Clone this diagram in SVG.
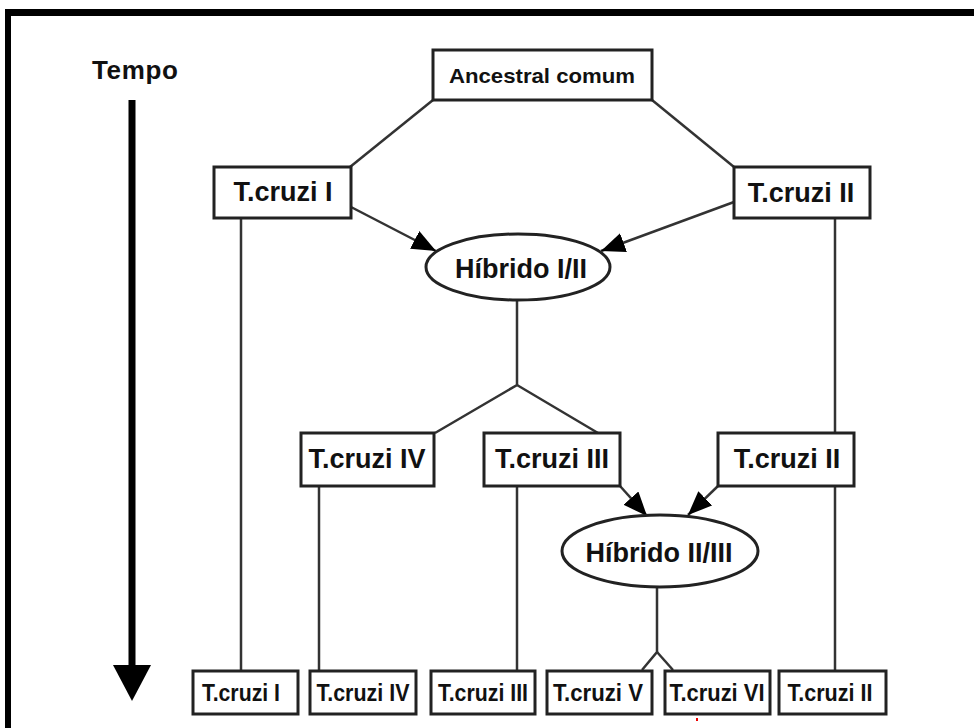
<svg xmlns="http://www.w3.org/2000/svg" width="974" height="728" viewBox="0 0 974 728">
<defs>
<style>
.box{fill:#fff;stroke:#222;stroke-width:3}
.ell{fill:#fff;stroke:#222;stroke-width:3}
.ln{fill:none;stroke:#333;stroke-width:2.5}
.t{font-family:"Liberation Sans",Arial,sans-serif;font-weight:bold;fill:#111;text-anchor:middle}
.big{font-size:27px}
.small{font-size:24px}
</style>
<marker id="ah" markerUnits="userSpaceOnUse" markerWidth="26" markerHeight="22" refX="24" refY="10" orient="auto">
<path d="M0,0 L24,10 L0,20 z" fill="#000"/>
</marker>
</defs>
<rect x="0" y="0" width="974" height="728" fill="#fff"/>
<!-- frame -->
<rect x="5" y="9" width="969" height="7" fill="#000"/>
<rect x="5" y="9" width="6" height="719" fill="#000"/>

<g id="tempo">
<text x="92" y="79" class="t" style="text-anchor:start;font-size:26px" textLength="86">Tempo</text>
<line x1="132" y1="100" x2="132" y2="668" stroke="#000" stroke-width="7"/>
<polygon points="113,665 151,665 132,701" fill="#000"/>
</g>

<g id="connectors">
<line class="ln" x1="433" y1="100" x2="350" y2="167"/>
<line class="ln" x1="652" y1="100" x2="734" y2="167"/>
<line class="ln" x1="351" y1="207" x2="436" y2="251" marker-end="url(#ah)"/>
<line class="ln" x1="734" y1="202" x2="601" y2="251" marker-end="url(#ah)"/>
<line class="ln" x1="241" y1="218" x2="241" y2="671"/>
<line class="ln" x1="835" y1="218" x2="835" y2="433"/>
<line class="ln" x1="835" y1="486" x2="835" y2="671"/>
<polyline class="ln" points="517,300 517,385 435,433"/>
<line class="ln" x1="517" y1="385" x2="598" y2="433"/>
<line class="ln" x1="319" y1="486" x2="319" y2="671"/>
<line class="ln" x1="517" y1="486" x2="517" y2="671"/>
<line class="ln" x1="620" y1="486" x2="647" y2="516" marker-end="url(#ah)"/>
<line class="ln" x1="718" y1="486" x2="688" y2="515" marker-end="url(#ah)"/>
<polyline class="ln" points="657,588 657,652 642,670"/>
<line class="ln" x1="657" y1="652" x2="673" y2="670"/>
</g>

<g id="ancestral">
<rect class="box" x="433" y="50" width="219" height="50"/>
<text x="542" y="83" class="t" style="font-size:21px" textLength="186" lengthAdjust="spacingAndGlyphs">Ancestral comum</text>
</g>
<g id="tcruzi1-top">
<rect class="box" x="214" y="167" width="137" height="51"/>
<text x="283" y="201" class="t big">T.cruzi I</text>
</g>
<g id="tcruzi2-top">
<rect class="box" x="734" y="167" width="136" height="51"/>
<text x="801" y="202" class="t big">T.cruzi II</text>
</g>
<g id="hibrido12">
<ellipse class="ell" cx="518" cy="267" rx="92" ry="33"/>
<text x="521" y="278" class="t big">Híbrido I/II</text>
</g>
<g id="tcruzi4-mid">
<rect class="box" x="301" y="433" width="133" height="53"/>
<text x="367" y="468" class="t big">T.cruzi IV</text>
</g>
<g id="tcruzi3-mid">
<rect class="box" x="484" y="433" width="136" height="53"/>
<text x="552" y="468" class="t big">T.cruzi III</text>
</g>
<g id="tcruzi2-mid">
<rect class="box" x="718" y="433" width="136" height="53"/>
<text x="787" y="468" class="t big">T.cruzi II</text>
</g>
<g id="hibrido23">
<ellipse class="ell" cx="660" cy="551" rx="98" ry="36"/>
<text x="659" y="562" class="t big">Híbrido II/III</text>
</g>

<g id="tcruzi1-bot">
<rect class="box" x="193" y="671" width="105" height="43"/>
<text x="241" y="701" class="t small" textLength="78" lengthAdjust="spacingAndGlyphs">T.cruzi I</text>
</g>
<g id="tcruzi4-bot">
<rect class="box" x="310" y="671" width="106" height="43"/>
<text x="363" y="701" class="t small" textLength="93" lengthAdjust="spacingAndGlyphs">T.cruzi IV</text>
</g>
<g id="tcruzi3-bot">
<rect class="box" x="431" y="671" width="104" height="43"/>
<text x="483" y="701" class="t small" textLength="90" lengthAdjust="spacingAndGlyphs">T.cruzi III</text>
</g>
<g id="tcruzi5-bot">
<rect class="box" x="547" y="671" width="105" height="43"/>
<text x="598" y="701" class="t small" textLength="90" lengthAdjust="spacingAndGlyphs">T.cruzi V</text>
</g>
<g id="tcruzi6-bot">
<rect class="box" x="665" y="671" width="105" height="43"/>
<text x="717" y="701" class="t small" textLength="95" lengthAdjust="spacingAndGlyphs">T.cruzi VI</text>
</g>
<g id="tcruzi2-bot">
<rect class="box" x="779" y="671" width="107" height="43"/>
<text x="830" y="701" class="t small" textLength="85" lengthAdjust="spacingAndGlyphs">T.cruzi II</text>
</g>
<rect x="696" y="718" width="2" height="3" fill="#e00"/>
</svg>
